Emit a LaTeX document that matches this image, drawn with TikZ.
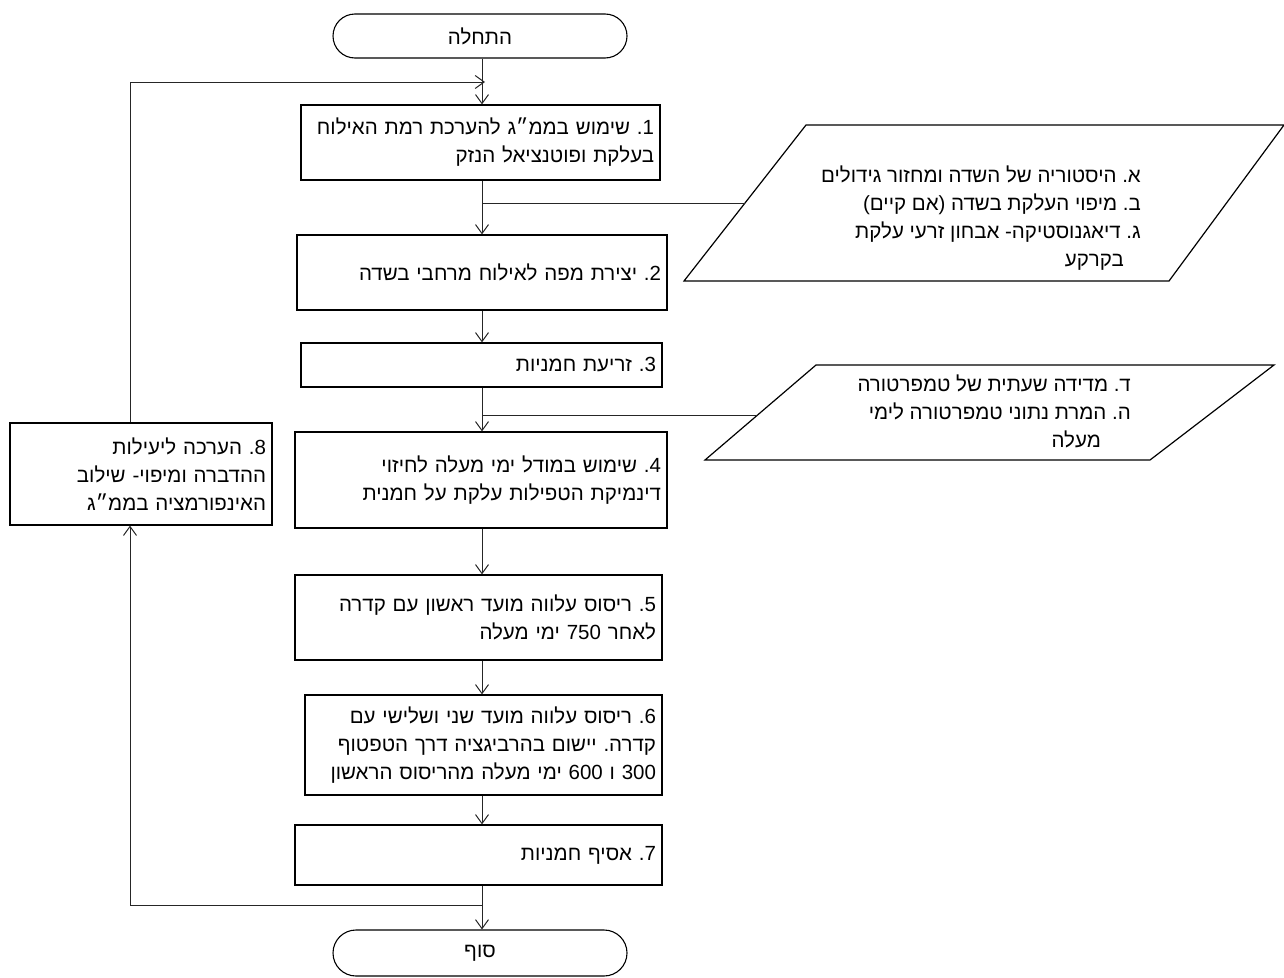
\documentclass[tikz,border=0pt]{standalone}
\usepackage{fontspec}
\setmainfont{Liberation Sans}
\newfontfamily\heb[Script=Hebrew]{Liberation Sans}
\TeXXeTstate=1
\frenchspacing
\usetikzlibrary{arrows.meta,shapes.misc,calc}
\newcommand{\hl}[1]{\beginR #1\endR}
\begin{document}
\begin{tikzpicture}[x=1pt,y=-1pt,
  txt/.style={font=\heb\fontsize{20.5}{28}\selectfont},
  stepbox/.style={txt,draw=black,line width=1.2pt,rectangle,inner xsep=6pt,inner ysep=0pt,align=right},
  term/.style={txt,draw=black,line width=1.1pt,rounded rectangle,minimum width=294pt,minimum height=44pt,inner sep=0pt},
  para/.style={draw=black,line width=1.2pt},
  link/.style={draw=black!85,line width=1pt},
  arr/.style={link,-{Straight Barb[length=9pt,width=13pt,line width=1pt]}}]
\useasboundingbox (0,0) rectangle (1284,977);

% terminals
\node[term] (start) at (480,36) {\hl{התחלה}};
\node[term,minimum height=46pt] (end) at (480,953) {\hl{סוף}};

% process boxes
\node[stepbox,minimum width=359pt,minimum height=75pt,text width=347pt] (b1) at (480.5,142.5)
  {\hl{1. שימוש בממ״ג להערכת רמת האילוח}\hspace*{3pt}\\\hl{בעלקת ופוטנציאל הנזק}\hspace*{5pt}};
\node[stepbox,minimum width=370pt,minimum height=75pt,text width=358pt] (b2) at (482,272.5)
  {\hl{2. יצירת מפה לאילוח מרחבי בשדה}\hspace*{6pt}};
\node[stepbox,minimum width=361pt,minimum height=44pt,text width=349pt] (b3) at (481.5,365)
  {\hl{3. זריעת חמניות}\hspace*{6pt}};
\node[stepbox,minimum width=372pt,minimum height=96pt,text width=360pt] (b4) at (481,480)
  {\hl{4. שימוש במודל ימי מעלה לחיזוי}\hspace*{9pt}\\\hl{דינמיקת הטפילות עלקת על חמנית}\hspace*{9pt}};
\node[stepbox,minimum width=367pt,minimum height=85pt,text width=355pt] (b5) at (478.5,617.5)
  {\hl{5. ריסוס עלווה מועד ראשון עם קדרה}\hspace*{5pt}\\\hl{לאחר 750 ימי מעלה}\hspace*{5pt}};
\node[stepbox,minimum width=357pt,minimum height=100pt,text width=345pt] (b6) at (483.5,745)
  {\hl{6. ריסוס עלווה מועד שני ושלישי עם}\hspace*{2pt}\\\hl{קדרה. יישום בהרביגציה דרך הטפטוף}\hspace*{2pt}\\\hl{300 ו 600 ימי מעלה מהריסוס הראשון}};
\node[stepbox,minimum width=367pt,minimum height=60pt,text width=355pt] (b7) at (478.5,855)
  {\hl{7. אסיף חמניות}\hspace*{6pt}};
\node[stepbox,minimum width=262pt,minimum height=102pt,text width=250pt] (b8) at (141,474)
  {\hl{8. הערכה ליעילות}\hspace*{10pt}\\\hl{ההדברה ומיפוי- שילוב}\hspace*{10pt}\\\hl{האינפורמציה בממ״ג}\hspace*{10pt}};

% input parallelograms
\coordinate (p1bl) at (684,281);
\coordinate (p1tl) at (806,125);
\coordinate (p1tr) at (1284,125);
\coordinate (p1br) at (1169,281);
\draw[para] (p1bl) -- (p1tl) -- (p1tr) -- (p1br) -- cycle;
\node[txt,anchor=east,align=right,inner sep=0pt] (p1) at (1141,218)
  {\hl{א. היסטוריה של השדה ומחזור גידולים}\\\hl{ב. מיפוי העלקת בשדה (אם קיים)}\\\hl{ג. דיאגנוסטיקה- אבחון זרעי עלקת}\\\hl{בקרקע}\hspace*{17pt}};
\coordinate (p1in) at ($(p1bl)!0.5!(p1tl)$);

\coordinate (p2bl) at (705,460);
\coordinate (p2tl) at (816,365);
\coordinate (p2tr) at (1274,365);
\coordinate (p2br) at (1150,460);
\draw[para] (p2bl) -- (p2tl) -- (p2tr) -- (p2br) -- cycle;
\node[txt,anchor=east,align=right,inner sep=0pt] (p2) at (1131,411)
  {\hl{ד. מדידה שעתית של טמפרטורה}\\\hl{ה. המרת נתוני טמפרטורה לימי}\\\hl{מעלה}\hspace*{30pt}};
\coordinate (p2in) at ($(p2bl)!0.47!(p2tl)$);

% spine and loop coordinates
\coordinate (spine) at (482,0);
\coordinate (loopx) at (130,0);
\coordinate (top) at (0,82);
\coordinate (bot) at (0,905);

% main flow
\draw[arr] (spine |- start.south) -- (spine |- b1.north);
\draw[arr] (spine |- b1.south) -- (spine |- b2.north);
\draw[arr] (spine |- b2.south) -- (spine |- b3.north);
\draw[arr] (spine |- b3.south) -- (spine |- b4.north);
\draw[arr] (spine |- b4.south) -- (spine |- b5.north);
\draw[arr] (spine |- b5.south) -- (spine |- b6.north);
\draw[arr] (spine |- b6.south) -- (spine |- b7.north);
\draw[arr] (spine |- b7.south) -- (spine |- end.north);

% inputs
\draw[link] (p1in) -- (spine |- p1in);
\draw[link] (p2in) -- (spine |- p2in);

% feedback loop
\draw[arr] (spine |- bot) -- (loopx |- bot) -- (loopx |- b8.south);
\draw[arr] (loopx |- b8.north) -- (loopx |- top) -- ($(spine |- top)+(3,0)$);
\end{tikzpicture}
\end{document}
